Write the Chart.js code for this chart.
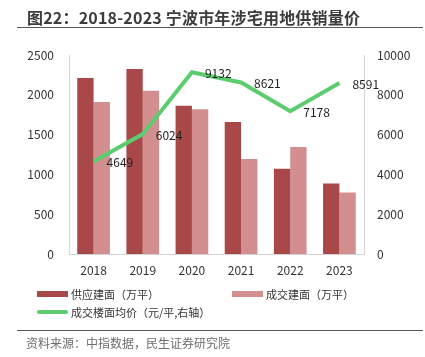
<!DOCTYPE html>
<html>
<head>
<meta charset="utf-8">
<script src="https://cdn.jsdelivr.net/npm/chart.js@4.4.1/dist/chart.umd.min.js"></script>
<style>
  html, body { margin: 0; padding: 0; background: #fff; }
  body { width: 425px; height: 357px; position: relative; overflow: hidden;
         font-family: "Noto Sans CJK SC", "Noto Sans", sans-serif; }
  #wrap { position: absolute; left: 0; top: 0; width: 425px; height: 357px; }
  #title { position: absolute; left: 27px; top: 7px; font-size: 16px; line-height: 20px;
           font-weight: bold; color: #3c3c3c; white-space: nowrap; letter-spacing: 0.2px; }
  .rule { position: absolute; left: 17px; width: 406px; height: 0; border-top: 1.5px solid #5a5a5a; }
  #source { position: absolute; left: 26px; top: 335px; font-size: 12px; line-height: 16px;
            color: #6e6e6e; white-space: nowrap; }
  #legend { position: absolute; left: 0; top: 0; }
  .lg { position: absolute; font-size: 11px; line-height: 14px; color: #333; white-space: nowrap; }
  .sw { position: absolute; }
</style>
</head>
<body>
<div id="wrap"><canvas id="c" width="425" height="357"></canvas></div>
<div id="title">图22：2018-2023 宁波市年涉宅用地供销量价</div>
<div class="rule" style="top:27px"></div>
<div id="legend"></div>
<div class="rule" style="top:330px"></div>
<div id="source">资料来源：中指数据，民生证券研究院</div>
<script>
const categories = ['2018', '2019', '2020', '2021', '2022', '2023'];
const supplyArea = [2210, 2323, 1861, 1659, 1071, 887];
const dealArea = [1911, 2050, 1820, 1193, 1344, 774];
const avgPrice = [4649, 6024, 9132, 8621, 7178, 8591];
const leftTicks = [0, 500, 1000, 1500, 2000, 2500];
const rightTicks = [0, 2000, 4000, 6000, 8000, 10000];
const seriesNames = ['供应建面（万平）', '成交建面（万平）', '成交楼面均价（元/平,右轴）'];

const FONT = '"Noto Sans CJK SC", "Noto Sans", sans-serif';
const COL_SUPPLY = '#a84848';
const COL_DEAL = '#d38f8f';
const COL_LINE = '#5ccd6e';

const lineLabels = {
  id: 'lineLabels',
  afterDatasetsDraw(chart) {
    const ctx = chart.ctx;
    const meta = chart.getDatasetMeta(2);
    const data = chart.data.datasets[2].data;
    ctx.save();
    ctx.font = '12px ' + FONT;
    ctx.fillStyle = '#1e1e1e';
    ctx.textAlign = 'left';
    ctx.textBaseline = 'middle';
    meta.data.forEach((pt, i) => {
      ctx.fillText(String(data[i]), pt.x + 13, pt.y + 1);
    });
    ctx.restore();
  }
};

const plainTick = v => String(v);

const chart = new Chart(document.getElementById('c'), {
  data: {
    labels: categories,
    datasets: [
      { type: 'bar', label: seriesNames[0], data: supplyArea, backgroundColor: COL_SUPPLY,
        yAxisID: 'y', order: 2, barPercentage: 1.0, categoryPercentage: 0.665 },
      { type: 'bar', label: seriesNames[1], data: dealArea, backgroundColor: COL_DEAL,
        yAxisID: 'y', order: 2, barPercentage: 1.0, categoryPercentage: 0.665 },
      { type: 'line', label: seriesNames[2], data: avgPrice, borderColor: COL_LINE,
        backgroundColor: COL_LINE, borderWidth: 4, pointRadius: 0, tension: 0,
        yAxisID: 'y1', order: 1, borderJoinStyle: 'miter' }
    ]
  },
  options: {
    responsive: false,
    animation: false,
    devicePixelRatio: 1,
    layout: { padding: { top: 55, bottom: 73, left: 0, right: 0 } },
    plugins: { legend: { display: false }, title: { display: false }, tooltip: { enabled: false } },
    scales: {
      x: {
        grid: { display: false, drawTicks: false },
        border: { display: true, color: '#d4d4d4', width: 1 },
        ticks: { color: '#333', font: { size: 12, family: FONT }, padding: 9, maxRotation: 0 },
        afterFit(s) { s.height = 30; }
      },
      y: {
        position: 'left', min: 0, max: leftTicks[leftTicks.length - 1],
        afterBuildTicks(s) { s.ticks = leftTicks.map(v => ({ value: v })); },
        grid: { display: false, drawTicks: false },
        border: { display: true, color: '#d4d4d4', width: 1 },
        ticks: { color: '#333', font: { size: 12, family: FONT }, padding: 15, callback: plainTick },
        afterFit(s) { s.width = 69; }
      },
      y1: {
        position: 'right', min: 0, max: rightTicks[rightTicks.length - 1],
        afterBuildTicks(s) { s.ticks = rightTicks.map(v => ({ value: v })); },
        grid: { display: false, drawTicks: false },
        border: { display: true, color: '#d4d4d4', width: 1 },
        ticks: { color: '#333', font: { size: 12, family: FONT }, padding: 13, callback: plainTick },
        afterFit(s) { s.width = 61; }
      }
    }
  },
  plugins: [lineLabels]
});

// HTML legend built from the chart datasets
const legendPos = [
  { x: 37, y: 294 }, { x: 232, y: 294 }, { x: 37, y: 312 }
];
const lg = document.getElementById('legend');
chart.data.datasets.forEach((ds, i) => {
  const p = legendPos[i];
  const sw = document.createElement('div');
  sw.className = 'sw';
  if (ds.type === 'line') {
    Object.assign(sw.style, { left: p.x + 'px', top: (p.y - 2) + 'px', width: '31px', height: '4px',
      background: ds.borderColor, borderRadius: '2px' });
  } else {
    Object.assign(sw.style, { left: p.x + 'px', top: (p.y - 3) + 'px', width: '31px', height: '6px',
      background: ds.backgroundColor });
  }
  lg.appendChild(sw);
  const t = document.createElement('div');
  t.className = 'lg';
  t.textContent = ds.label;
  Object.assign(t.style, { left: (p.x + 34) + 'px', top: (p.y - 7.5) + 'px' });
  lg.appendChild(t);
});
</script>
</body>
</html>
